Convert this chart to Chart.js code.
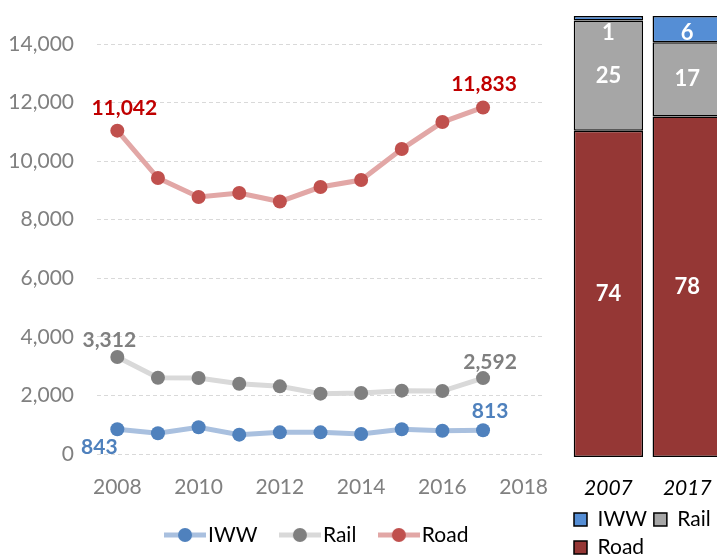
<!DOCTYPE html>
<html>
<head>
<meta charset="utf-8">
<script src="https://cdn.jsdelivr.net/npm/chart.js@4"></script>
<style>
    html, body { margin: 0; padding: 0; background: #fff; }
    #wrap { position: relative; width: 717px; height: 558px; overflow: hidden; }
    #chart-line { position: absolute; left: 0; top: 0; }
    #chart-share { position: absolute; left: 560px; top: 0; }
</style>
</head>
<body>
<div id="wrap">
    <canvas id="chart-line" width="580" height="558"></canvas>
    <canvas id="chart-share" width="170" height="568"></canvas>
</div>
<script>
// Freight volume by mode, 2008-2017
const years = [2008, 2009, 2010, 2011, 2012, 2013, 2014, 2015, 2016, 2017];
const iwwVol = [843, 706, 911, 660, 740, 740, 683, 843, 796, 813];
const railVol = [3312, 2605, 2595, 2400, 2310, 2060, 2083, 2163, 2150, 2592];
const roadVol = [11042, 9423, 8775, 8911, 8620, 9116, 9355, 10413, 11335, 11833];
const xTicks = [2008, 2010, 2012, 2014, 2016, 2018];

// Modal split (%) 2007 vs 2017
const shareYears = ['2007', '2017'];
const iwwShare = [1, 6];
const railShare = [25, 17];
const roadShare = [74, 78];

const FONT = 'Lato, "Open Sans", sans-serif';

// legend icon: short line with a dot in the middle
function markerIcon(lineColor, dotColor) {
    const c = document.createElement('canvas');
    c.width = 42;
    c.height = 16;
    const g = c.getContext('2d');
    g.strokeStyle = lineColor;
    g.lineWidth = 5;
    g.beginPath();
    g.moveTo(0, 8);
    g.lineTo(42, 8);
    g.stroke();
    g.fillStyle = dotColor;
    g.beginPath();
    g.arc(21, 8, 7, 0, Math.PI * 2);
    g.fill();
    return c;
}

const endLabels = {
    id: 'endLabels',
    afterDatasetsDraw(chart) {
        const ctx = chart.ctx;
        ctx.save();
        ctx.font = `bold 21px ${FONT}`;
        ctx.textAlign = 'center';
        ctx.textBaseline = 'middle';
        chart.data.datasets.forEach((ds, di) => {
            const meta = chart.getDatasetMeta(di);
            ctx.fillStyle = ds.labelColor;
            ds.labelAt.forEach((idx, k) => {
                const pt = meta.data[idx];
                const [dx, dy] = ds.labelOffset[k];
                ctx.fillText(ds.data[idx].y.toLocaleString('en-US'), pt.x + dx, pt.y + dy);
            });
        });
        ctx.restore();
    },
};

function lineSet(label, values, lineColor, dotColor, labelColor, labelOffset) {
    return {
        label,
        data: years.map((y, i) => ({ x: y, y: values[i] })),
        borderColor: lineColor,
        borderWidth: 5,
        pointBackgroundColor: dotColor,
        pointBorderWidth: 0,
        pointRadius: 7,
        tension: 0,
        labelColor,
        labelAt: [0, values.length - 1],
        labelOffset,
    };
}

new Chart(document.getElementById('chart-line'), {
    type: 'line',
    data: {
        datasets: [
            lineSet('IWW', iwwVol, '#A9C0DF', '#4F81BD', '#4F81BD', [[-18, 18], [7, -19]]),
            lineSet('Rail', railVol, '#D9D9D9', '#7F7F7F', '#7F7F7F', [[-8, -17], [7, -16]]),
            lineSet('Road', roadVol, '#E2A7A6', '#C0504D', '#C00000', [[7, -22], [1, -23]]),
        ],
    },
    options: {
        responsive: false,
        animation: false,
        layout: { padding: { left: 0, right: 36, top: 44, bottom: 2.5 } },
        scales: {
            x: {
                type: 'linear',
                min: 2007.5,
                max: 2018.5,
                afterBuildTicks: s => { s.ticks = xTicks.map(v => ({ value: v })); },
                afterFit: s => { s.height = 40.5; },
                grid: { display: false, drawTicks: false },
                border: { display: false },
                ticks: { color: '#808080', padding: 20.4, font: { family: FONT, size: 21 }, callback: v => String(v) },
            },
            y: {
                min: 0,
                max: 14000,
                afterFit: s => { s.width = 97; },
                grid: { color: '#D9D9D9', lineWidth: 1, drawTicks: false },
                border: { display: false, dash: [4, 3] },
                ticks: {
                    stepSize: 2000,
                    color: '#808080',
                    padding: 23,
                    font: { family: FONT, size: 21 },
                    callback: v => v.toLocaleString('en-US'),
                },
            },
        },
        plugins: {
            legend: {
                position: 'bottom',
                fullSize: false,
                labels: {
                    usePointStyle: true,
                    pointStyleWidth: 25,
                    padding: 30,
                    color: '#000',
                    font: { family: FONT, size: 21 },
                    generateLabels: chart => chart.data.datasets.map((ds, i) => ({
                        text: ds.label,
                        pointStyle: markerIcon(ds.borderColor, ds.pointBackgroundColor),
                        fillStyle: ds.pointBackgroundColor,
                        strokeStyle: ds.borderColor,
                        lineWidth: 0,
                        hidden: false,
                        datasetIndex: i,
                        fontColor: '#000',
                    })),
                },
            },
            tooltip: { enabled: false },
        },
    },
    plugins: [endLabels],
});

// share bars, normalised to 100%
const totals = shareYears.map((_, i) => iwwShare[i] + railShare[i] + roadShare[i]);
const pct = arr => arr.map((v, i) => (v / totals[i]) * 100);

const barLabels = {
    id: 'barLabels',
    afterDatasetsDraw(chart) {
        const ctx = chart.ctx;
        ctx.save();
        ctx.font = `bold 22px ${FONT}`;
        ctx.fillStyle = '#fff';
        ctx.textAlign = 'center';
        ctx.textBaseline = 'middle';
        chart.data.datasets.forEach((ds, di) => {
            chart.getDatasetMeta(di).data.forEach((bar, i) => {
                const { x, y, base } = bar.getProps(['x', 'y', 'base'], true);
                ctx.fillText(String(ds.raw[i]), x, Math.max((y + base) / 2, y + 17));
            });
        });
        ctx.restore();
    },
};

function barSet(label, values, color) {
    return {
        label,
        data: pct(values),
        raw: values,
        backgroundColor: color,
        borderColor: '#000',
        borderWidth: 1.5,
        borderSkipped: false,
        barPercentage: 0.88,
        categoryPercentage: 1,
    };
}

new Chart(document.getElementById('chart-share'), {
    type: 'bar',
    data: {
        labels: shareYears,
        datasets: [
            barSet('Road', roadShare, '#953735'),
            barSet('Rail', railShare, '#A6A6A6'),
            barSet('IWW', iwwShare, '#558ED5'),
        ],
    },
    options: {
        responsive: false,
        animation: false,
        layout: { padding: { left: 7, right: 0, top: 16, bottom: 0 } },
        scales: {
            x: {
                stacked: true,
                afterFit: s => { s.height = 45; },
                grid: { display: false, drawTicks: false },
                border: { display: false },
                ticks: { color: '#000', padding: 18.4, font: { family: FONT, size: 21, style: 'italic' } },
            },
            y: {
                stacked: true,
                min: 0,
                max: 100,
                afterFit: s => { s.width = 2; },
                grid: { display: false, drawTicks: false },
                border: { display: false },
                ticks: { display: false },
            },
        },
        plugins: {
            legend: {
                position: 'bottom',
                align: 'start',
                reverse: true,
                labels: {
                    boxWidth: 13,
                    boxHeight: 13,
                    padding: 7,
                    color: '#000',
                    font: { family: FONT, size: 21 },
                },
            },
            tooltip: { enabled: false },
        },
    },
    plugins: [barLabels],
});
</script>
</body>
</html>
